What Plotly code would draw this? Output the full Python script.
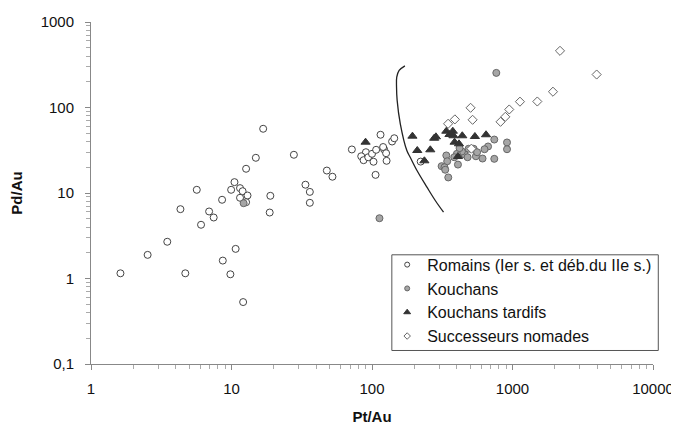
import plotly.graph_objects as go

# Romains (Ier s. et déb. du IIe s.)
rom_pt = [16.8, 27.8, 14.9, 12.7, 47.7, 10.5, 5.66, 9.94, 11.5, 12.0, 13.0, 11.5, 12.7, 18.9,
          33.6, 36.1, 36.1, 8.57, 4.33, 6.93, 7.47, 6.07, 18.7, 3.49, 2.53, 10.7, 8.67, 1.62,
          4.69, 9.82, 12.1, 52.3, 71.9, 115, 90.5, 83.8, 87.1, 94.0, 100, 107, 102.5, 122,
          120, 126, 127, 139, 144, 106, 222]
rom_pd = [56.4, 28.0, 25.8, 19.2, 18.3, 13.4, 10.9, 10.9, 11.4, 10.5, 9.35, 8.79, 7.8, 9.27,
          12.5, 10.3, 7.68, 8.33, 6.47, 6.08, 5.17, 4.25, 5.91, 2.69, 1.89, 2.22, 1.62, 1.15,
          1.15, 1.12, 0.53, 15.5, 32.3, 48.0, 30.0, 26.9, 24.2, 26.2, 28.7, 32.0, 23.2, 32.3,
          34.5, 29.2, 23.8, 40.0, 43.7, 16.3, 23.3]

# Kouchans
kou_pt = [12.2, 767, 113, 742, 914, 914, 670, 632, 742, 612, 549, 529, 487, 456, 479, 436,
          402, 385, 409, 338, 343, 313, 328, 332, 349, 560, 420]
kou_pd = [7.6, 254, 5.07, 42.2, 39.0, 32.5, 35.0, 32.5, 25.1, 25.3, 26.9, 32.9, 32.9, 28.2,
          26.2, 30.6, 28.7, 26.2, 21.5, 27.5, 23.5, 20.6, 20.0, 18.7, 15.2, 30.0, 33.5]

# Kouchans tardifs
tar_pt = [90, 194, 210, 236, 260, 277, 285, 338, 356, 376, 380, 387, 416, 439, 540, 648, 409]
tar_pd = [39.3, 46.2, 31.4, 23.8, 32.0, 43.7, 45.4, 52.8, 48.3, 52.8, 46.7, 39.3, 37.6, 46.7,
          45.8, 48.0, 26.7]

# Successeurs nomades
nom_pt = [2178, 3971, 1941, 1502, 1130, 948, 889, 822, 503, 520, 389, 348, 510]
nom_pd = [460, 243, 153, 117.5, 117, 94.8, 77.8, 68.0, 99.2, 71.8, 72.6, 64.5, 33.0]

# courbe limite
crv_pt = [171.5, 156, 150, 149.5, 151, 159, 177, 187, 209, 246, 282, 323]
crv_pd = [307, 271, 226, 173, 121, 64.5, 31.4, 26.2, 18.3, 11.7, 8.17, 5.96]

x_ticks = [1, 10, 100, 1000, 10000]
x_labels = ["1", "10", "100", "1000", "10000"]
y_ticks = [0.1, 1, 10, 100, 1000]
y_labels = ["0,1", "1", "10", "100", "1000"]

FONT = "Arial, Liberation Sans, sans-serif"

series = [
    ("Romains (Ier s. et déb.du IIe s.)", rom_pt, rom_pd, "circle", 7, "white", "#444"),
    ("Kouchans", kou_pt, kou_pd, "circle", 7, "#a6a6a6", "#666"),
    ("Kouchans tardifs", tar_pt, tar_pd, "triangle-up", 8, "#333", "#333"),
    ("Successeurs nomades", nom_pt, nom_pd, "diamond", 7, "white", "#666"),
]

fig = go.Figure()
fig.add_trace(go.Scatter(x=crv_pt, y=crv_pd, mode="lines", line=dict(color="#222", width=1.3, shape="spline"),
                         showlegend=False, hoverinfo="skip"))
for name, xs, ys, sym, size, fill, edge in series:
    fig.add_trace(go.Scatter(x=xs, y=ys, mode="markers", name=name, showlegend=False,
                             marker=dict(symbol=sym, size=size, color=fill, line=dict(color=edge, width=1))))
# smaller symbols in the legend
for name, xs, ys, sym, size, fill, edge in series:
    fig.add_trace(go.Scatter(x=[None], y=[None], mode="markers", name=name,
                             marker=dict(symbol=sym, size=size - 2, color=fill, line=dict(color=edge, width=1))))

axis_common = dict(type="log", showgrid=False, zeroline=False, showline=True, linecolor="#888", linewidth=1,
                   ticks="outside", ticklen=5, tickcolor="#888", automargin=False,
                   minor=dict(ticks="outside", ticklen=4, tickcolor="#aaa", dtick="D1"),
                   tickfont=dict(family=FONT, size=15, color="#111"))

fig.update_xaxes(range=[0, 4], tickvals=x_ticks, ticktext=x_labels, ticklabelstandoff=6,
                 title=dict(text="Pt/Au", font=dict(family=FONT, size=15, color="#111", weight="bold"), standoff=15),
                 **axis_common)
fig.update_yaxes(range=[-1, 3], tickvals=y_ticks, ticktext=y_labels, ticklabelstandoff=8,
                 title=dict(text="Pd/Au", font=dict(family=FONT, size=15, color="#111", weight="bold"), standoff=18),
                 **axis_common)

# legend frame
fig.add_shape(type="rect", xref="paper", yref="paper", x0=0.5353, x1=1.0094, y0=0.0395, y1=0.3193,
              line=dict(color="#555", width=1), fillcolor="white", layer="above")

fig.update_layout(
    width=679, height=426, autosize=False,
    margin=dict(l=83, r=34, t=14, b=70),
    paper_bgcolor="white", plot_bgcolor="white",
    font=dict(family=FONT, size=15, color="#111"),
    legend=dict(x=0.527, y=0.34, xanchor="left", yanchor="top", bgcolor="rgba(0,0,0,0)",
                borderwidth=0, font=dict(family=FONT, size=16, color="#111")),
)

fig.write_html("out.html")
